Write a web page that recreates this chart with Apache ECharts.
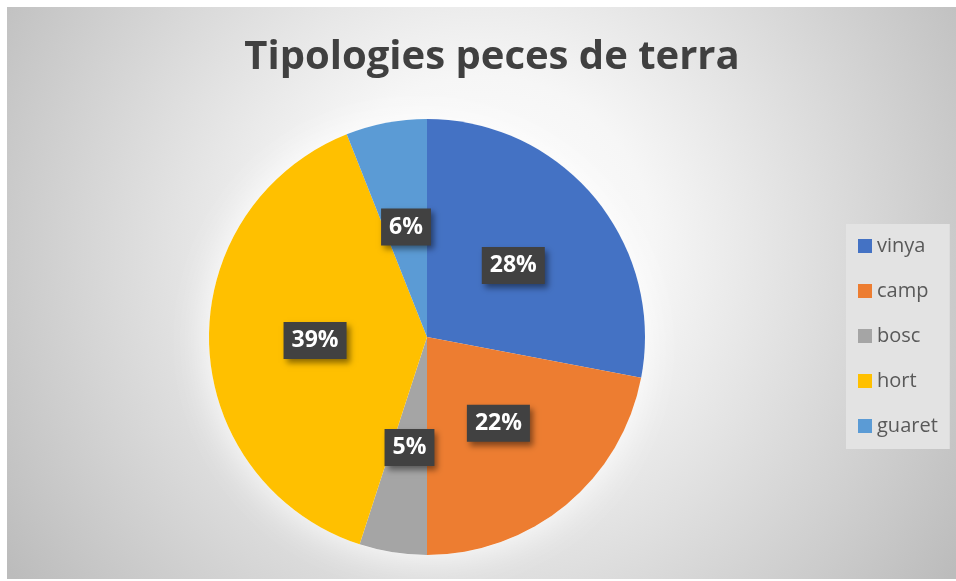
<!DOCTYPE html>
<html>
<head>
<meta charset="utf-8">
<script src="https://cdn.jsdelivr.net/npm/echarts@6/dist/echarts.min.js"></script>
<style>
  html, body { margin: 0; padding: 0; background: #ffffff; }
  #chart { width: 956px; height: 581px; }
</style>
</head>
<body>
<div id="chart"></div>
<script>
// land-plot types
const categories = ['vinya', 'camp', 'bosc', 'hort', 'guaret'];
const shares = [28, 22, 5, 39, 6];
const colors = ['#4472C4', '#ED7D31', '#A5A5A5', '#FFC000', '#5B9BD5'];

const myChart = echarts.init(document.getElementById('chart'));

const pieCenter = [427, 337];
const pieRadius = 218;

const chartOption = {
  animation: false,
  color: colors,
  graphic: [{
    type: 'rect',
    z: -10,
    shape: { x: 7, y: 7, width: 949, height: 572 },
    style: {
      fill: {
        type: 'radial', x: 0.5, y: 0.42, r: 1.0,
        colorStops: [
          { offset: 0, color: '#ffffff' },
          { offset: 0.3, color: '#f6f6f6' },
          { offset: 1, color: '#bcbcbc' }
        ]
      }
    }
  }],
  title: {
    text: 'Tipologies peces de terra',
    left: 487,
    textAlign: 'center',
    top: 33,
    textStyle: {
      fontFamily: 'Open Sans',
      fontWeight: 'bold',
      fontSize: 40,
      color: '#404040'
    }
  },
  legend: {
    orient: 'vertical',
    left: 846,
    top: 224,
    padding: [12, 12, 13, 12],
    backgroundColor: '#e3e3e3',
    itemWidth: 14,
    itemHeight: 14,
    itemGap: 25,
    icon: 'rect',
    data: categories,
    textStyle: {
      fontFamily: 'Open Sans',
      fontSize: 20,
      lineHeight: 20,
      color: '#595959'
    }
  },
  series: [{
    // soft white halo behind the pie
    type: 'pie',
    silent: true,
    z: 1,
    center: pieCenter,
    radius: pieRadius,
    label: { show: false },
    labelLine: { show: false },
    itemStyle: {
      color: '#ffffff',
      shadowColor: 'rgba(255,255,255,1)',
      shadowBlur: 40
    },
    data: [{ name: 'halo', value: 1 }]
  }, {
    type: 'pie',
    z: 2,
    center: pieCenter,
    radius: pieRadius,
    startAngle: 90,
    clockwise: true,
    percentPrecision: 0,
    labelLine: { show: false },
    emphasis: { disabled: true },
    data: categories.map((name, i) => ({ name, value: shares[i] })),
    label: {
      show: true,
      position: 'inside',
      formatter: '{d}%',
      fontFamily: 'Open Sans',
      fontWeight: 'bold',
      fontSize: 23,
      color: '#ffffff',
      backgroundColor: '#414141',
      padding: [8, 8, 6, 8],
      shadowColor: 'rgba(0,0,0,0.45)',
      shadowBlur: 6,
      shadowOffsetX: 3,
      shadowOffsetY: 4
    }
  }]
};

myChart.setOption(chartOption);
</script>
</body>
</html>
